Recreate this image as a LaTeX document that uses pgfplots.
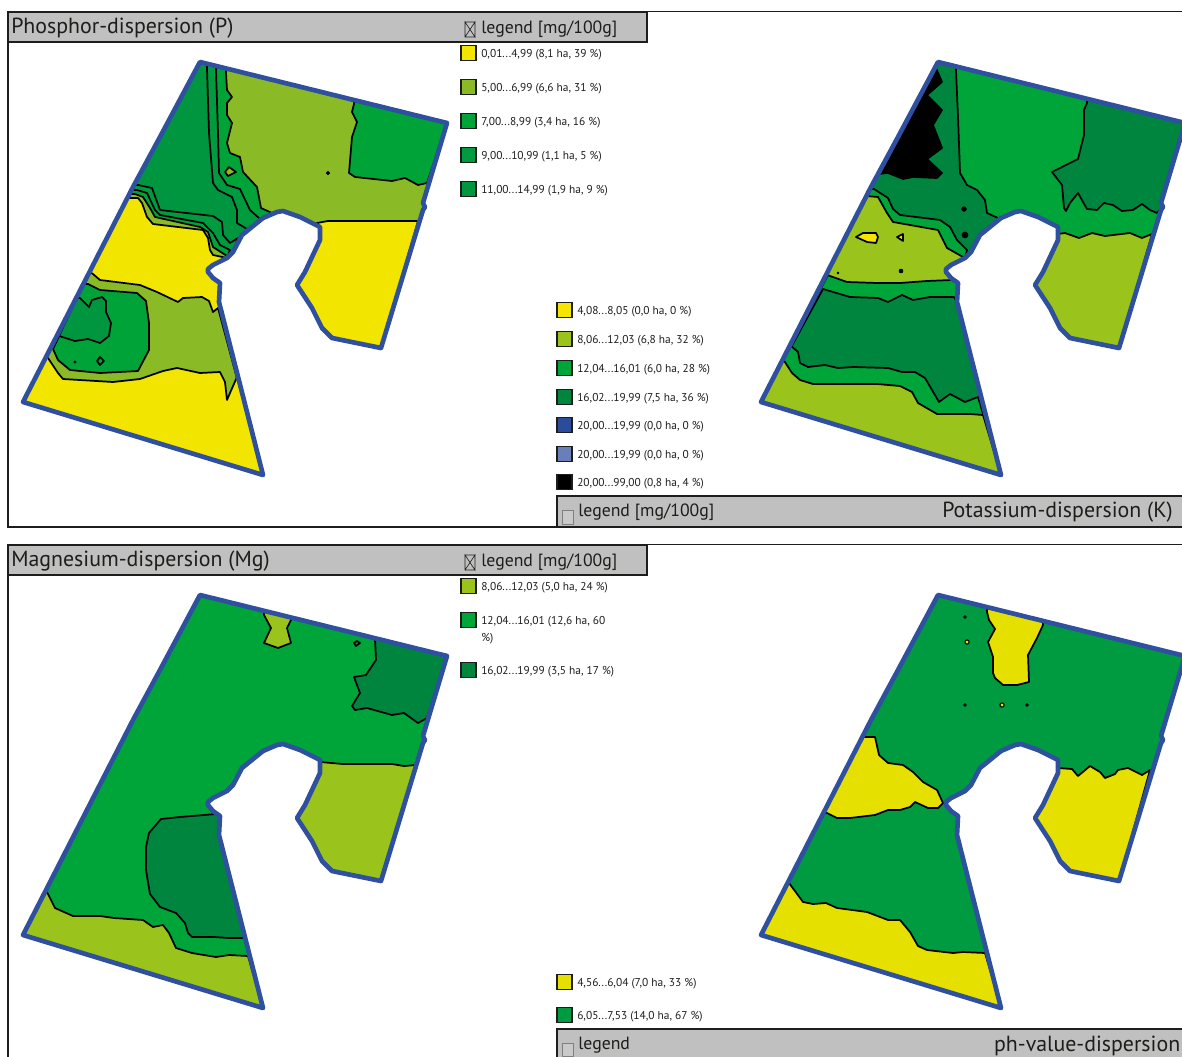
\documentclass[border=0pt]{standalone}
\usepackage{fontspec}
\setmainfont{PT Sans}
\usepackage{pgfplots}
\usepackage{pgfplotstable}
\pgfplotsset{compat=1.18}

% colours
\definecolor{fieldblue}{HTML}{2F4F9F}
\definecolor{hdr}{HTML}{C0C0C0}
\definecolor{framek}{HTML}{1D1D1B}
\definecolor{pyel}{HTML}{F2E500}
\definecolor{poli}{HTML}{8ABB26}
\definecolor{pgra}{HTML}{00A338}
\definecolor{pgrb}{HTML}{009B3E}
\definecolor{pgrc}{HTML}{009640}
\definecolor{kyel}{HTML}{F6E500}
\definecolor{koli}{HTML}{9AC31C}
\definecolor{kgra}{HTML}{00A539}
\definecolor{kdrk}{HTML}{00853E}
\definecolor{kblu}{HTML}{2B4B9B}
\definecolor{klbl}{HTML}{6A7FB9}
\definecolor{hyel}{HTML}{E5E000}
\definecolor{hgre}{HTML}{009B40}

% field border, in the pixel frame of the upper left panel
\pgfplotstableread{
x y
200 62
447 123
423 203
425 207
423 210
381 348
332 338
322 328
312 308
297 285
305 272
320 240
320 227
300 217
283 211
277 212
263 218
242 235
233 252
227 258
213 265
208 269
208 272
213 278
220 283
219 302
263 475
23 402
133 187
160 137
}\outlinetab

\pgfplotsset{
  panel/.style={
    scale only axis, width=886.5pt, height=792.75pt, hide axis, clip=false,
    y dir=reverse, anchor=south west, at={(0,0)}
  },
  reg/.style={fill=#1, draw=black, line width=1.3pt, line join=round},
  swatch/.style={only marks, mark=square*, mark size=5.6pt,
    mark options={fill=#1, draw=framek, line width=0.9pt}},
  spot/.style={only marks, mark=*, mark size=#1, mark options={fill=black, draw=black}},
  ring/.style={only marks, mark=*, mark size=1.6pt, mark options={fill=#1, draw=black, line width=0.8pt}},
}
\tikzset{
  ttl/.style={anchor=west, inner sep=0pt, yshift=-1.2pt, font=\fontsize{16.4pt}{17pt}\selectfont, text=framek},
  lgh/.style={anchor=west, inner sep=0pt, yshift=-0.6pt, font=\fontsize{13.3pt}{14pt}\selectfont, text=framek},
  lgt/.style={anchor=west, inner sep=0pt, yshift=-1.4pt, font=\fontsize{8.55pt}{9pt}\selectfont, text=framek},
}
\newcommand{\fieldbase}[1]{\addplot[fill=#1, draw=none] table {\outlinetab} -- cycle;}
\newcommand{\fieldborder}{\addplot[draw=fieldblue, line width=3.5pt, line join=round] table {\outlinetab} -- cycle;}

\begin{document}
\begin{tikzpicture}
\useasboundingbox (0,0) rectangle (886.5pt,792.75pt);

% frames, headers, legends: whole page
\begin{axis}[panel, xmin=0, xmax=1182, ymin=0, ymax=1057]
\addplot[draw=framek, line width=1.3pt] coordinates {(1182,11.5) (647,11.5)};
\addplot[draw=framek, line width=1.5pt] coordinates {(8,42) (8,527) (557,527)};
\addplot[fill=hdr, draw=framek, line width=2pt] coordinates {(8,12) (647,12) (647,42) (8,42)} -- cycle;
\addplot[fill=hdr, draw=none] coordinates {(557,496) (1182,496) (1182,527) (557,527)} -- cycle;
\addplot[draw=framek, line width=1.8pt] coordinates {(1182,496) (557,496) (557,527) (1182,527)};

\addplot[draw=framek, line width=1.3pt] coordinates {(1182,544.5) (647,544.5)};
\addplot[draw=framek, line width=1.5pt] coordinates {(8,575) (8,1057)};
\addplot[fill=hdr, draw=framek, line width=2pt] coordinates {(8,545) (647,545) (647,575) (8,575)} -- cycle;
\addplot[fill=hdr, draw=none] coordinates {(557,1029) (1182,1029) (1182,1057) (557,1057)} -- cycle;
\addplot[draw=framek, line width=1.8pt] coordinates {(1182,1029) (557,1029) (557,1057)};

% check boxes
\addplot[draw=framek, line width=0.5pt] coordinates {(465,22) (475,22) (475,37) (465,37) (465,22) (475,37) (475,22) (465,37)};
\addplot[draw=framek, line width=0.5pt] coordinates {(465,555) (475,555) (475,570) (465,570) (465,555) (475,570) (475,555) (465,570)};
\addplot[fill=hdr!85!white, draw=gray, line width=0.5pt] coordinates {(562,510) (573,510) (573,524) (562,524)} -- cycle;
\addplot[fill=hdr!85!white, draw=gray, line width=0.5pt] coordinates {(562,1043) (573,1043) (573,1056) (562,1056)} -- cycle;

% legend swatches
\addplot[swatch=pyel] coordinates {(468.5,53)};
\addplot[swatch=poli] coordinates {(468.5,87)};
\addplot[swatch=pgra] coordinates {(468.5,121)};
\addplot[swatch=pgrb] coordinates {(468.5,155)};
\addplot[swatch=pgrc] coordinates {(468.5,189)};
\addplot[swatch=kyel] coordinates {(564.5,310)};
\addplot[swatch=koli] coordinates {(564.5,339)};
\addplot[swatch=kgra] coordinates {(564.5,368)};
\addplot[swatch=kdrk] coordinates {(564.5,397)};
\addplot[swatch=kblu] coordinates {(564.5,425)};
\addplot[swatch=klbl] coordinates {(564.5,454)};
\addplot[swatch=black] coordinates {(564.5,482)};
\addplot[swatch=koli] coordinates {(468.5,586)};
\addplot[swatch=kgra] coordinates {(468.5,620)};
\addplot[swatch=kdrk] coordinates {(468.5,670)};
\addplot[swatch=hyel] coordinates {(564.5,982)};
\addplot[swatch=hgre] coordinates {(564.5,1015)};

\node[ttl] at (axis cs:11,27) {Phosphor-dispersion (P)};
\node[lgh] at (axis cs:481,28) {legend [mg/100g]};
\node[lgt] at (axis cs:481,53) {0,01...4,99 (8,1 ha, 39 \%)};
\node[lgt] at (axis cs:481,87) {5,00...6,99 (6,6 ha, 31 \%)};
\node[lgt] at (axis cs:481,121) {7,00...8,99 (3,4 ha, 16 \%)};
\node[lgt] at (axis cs:481,155) {9,00...10,99 (1,1 ha, 5 \%)};
\node[lgt] at (axis cs:481,189) {11,00...14,99 (1,9 ha, 9 \%)};

\node[lgt] at (axis cs:577,310) {4,08...8,05 (0,0 ha, 0 \%)};
\node[lgt] at (axis cs:577,339) {8,06...12,03 (6,8 ha, 32 \%)};
\node[lgt] at (axis cs:577,368) {12,04...16,01 (6,0 ha, 28 \%)};
\node[lgt] at (axis cs:577,397) {16,02...19,99 (7,5 ha, 36 \%)};
\node[lgt] at (axis cs:577,425) {20,00...19,99 (0,0 ha, 0 \%)};
\node[lgt] at (axis cs:577,454) {20,00...19,99 (0,0 ha, 0 \%)};
\node[lgt] at (axis cs:577,482) {20,00...99,00 (0,8 ha, 4 \%)};
\node[lgh] at (axis cs:578,511) {legend [mg/100g]};
\node[ttl] at (axis cs:942,511) {Potassium-dispersion (K)};

\node[ttl] at (axis cs:11,560) {Magnesium-dispersion (Mg)};
\node[lgh] at (axis cs:481,561) {legend [mg/100g]};
\node[lgt] at (axis cs:481,586) {8,06...12,03 (5,0 ha, 24 \%)};
\node[lgt] at (axis cs:481,620) {12,04...16,01 (12,6 ha, 60};
\node[lgt] at (axis cs:481,637) {\%)};
\node[lgt] at (axis cs:481,670) {16,02...19,99 (3,5 ha, 17 \%)};

\node[lgt] at (axis cs:577,982) {4,56...6,04 (7,0 ha, 33 \%)};
\node[lgt] at (axis cs:577,1015) {6,05...7,53 (14,0 ha, 67 \%)};
\node[lgh] at (axis cs:578,1044) {legend};
\node[ttl, anchor=east] at (axis cs:1180.5,1044) {ph-value-dispersion};
\end{axis}

% Phosphor
\begin{axis}[panel, xmin=0, xmax=1182, ymin=0, ymax=1057]
\fieldbase{pgrc}
% bands right of the field's top left part
\addplot[reg=pgrb] coordinates {(207,64) (207,68) (209,133) (213,183) (218,190) (232,197) (237,210) (237,223) (247,229) (250,228) (263,218) (277,212) (283,211) (300,217) (320,227) (320,240) (305,272) (297,285) (312,308) (322,328) (332,338) (381,348) (423,210) (425,207) (423,203) (447,123)} -- cycle;
\addplot[reg=pgra] coordinates {(216,66) (216,70) (218,133) (219,173) (227,185) (240,189) (250,210) (260,219) (263,218) (277,212) (283,211) (300,217) (320,227) (320,240) (305,272) (297,285) (312,308) (322,328) (332,338) (381,348) (423,210) (425,207) (423,203) (447,123)} -- cycle;
\addplot[reg=poli] coordinates {(226,68) (226,73) (227,90) (232,97) (227,103) (227,115) (232,123) (227,143) (230,153) (240,157) (243,172) (257,187) (261,208) (272,213) (283,211) (300,217) (320,227) (320,240) (305,272) (297,285) (312,308) (322,328) (332,338) (381,348) (423,210) (425,207) (423,203) (447,123)} -- cycle;
\addplot[reg=pgra] coordinates {(354,100) (354,104) (352,112) (357,122) (352,137) (349,173) (355,177) (392,181) (405,178) (418,185) (427,183) (447,123)} -- cycle;
\addplot[reg=pyel] coordinates {(320,227) (317,223) (328,221) (418,221) (381,348) (332,338) (322,328) (312,308) (297,285) (305,272) (320,240)} -- cycle;
\addplot[reg=poli] coordinates {(225,172) (229,167) (236,172) (228,176)} -- cycle;
\addplot[spot=1.4pt] coordinates {(328,173)};
% bands in the lower left part
\addplot[reg=pgrb] coordinates {(134,185) (138,185) (152,188) (160,210) (213,216) (222,222) (223,235) (230,243) (238,238) (233,252) (227,258) (213,265) (208,269) (208,272) (213,278) (220,283) (219,302) (263,475) (23,402)} -- cycle;
\addplot[reg=pgra] coordinates {(131,190) (137,190) (147,193) (155,210) (160,215) (203,223) (213,233) (220,245) (230,250) (227,258) (213,265) (208,269) (208,272) (213,278) (220,283) (219,302) (263,475) (23,402)} -- cycle;
\addplot[reg=poli] coordinates {(129,194) (135,194) (143,197) (150,208) (155,217) (200,227) (208,232) (213,247) (227,256) (227,258) (213,265) (208,269) (208,272) (213,278) (220,283) (219,302) (263,475) (23,402)} -- cycle;
\addplot[reg=pyel] coordinates {(127,198) (138,198) (142,203) (147,217) (153,224) (203,230) (208,238) (210,250) (213,255) (227,258) (213,265) (208,269) (208,272) (213,278) (220,283) (219,302) (263,475) (23,402)} -- cycle;
\addplot[reg=poli] coordinates {(90,272) (93,274) (100,280) (140,285) (157,292) (178,302) (183,298) (202,297) (209,301) (213,312) (218,308) (263,475) (23,402)} -- cycle;
\addplot[reg=pgra] coordinates {(84,284) (88,284) (100,290) (137,293) (146,301) (149,323) (149,350) (138,371) (100,373) (70,370) (58,360) (53,349)} -- cycle;
\addplot[reg=pgrc] coordinates {(77,298) (80,298) (89,307) (92,300) (102,297) (106,301) (106,312) (111,323) (109,336) (100,343) (88,339) (75,341) (59,336)} -- cycle;
\addplot[reg=pgra] coordinates {(97,361) (100,357) (104,361) (100,365)} -- cycle;
\addplot[spot=0.9pt] coordinates {(75,362)};
\addplot[reg=pyel] coordinates {(46,358) (48,358) (58,373) (63,379) (113,382) (140,379) (163,371) (177,368) (200,373) (220,372) (225,382) (227,400) (230,393) (237,377) (263,475) (23,402)} -- cycle;
\fieldborder
\end{axis}

% Potassium
\begin{axis}[panel, xmin=-738, xmax=444, ymin=0, ymax=1057]
\fieldbase{kdrk}
\addplot[reg=kgra] coordinates {(218,66) (218,71) (220,117) (222,173) (229,185) (239,190) (247,200) (249,213) (260,218) (263,218) (277,212) (283,211) (300,217) (320,227) (320,240) (305,272) (297,285) (312,308) (322,328) (332,338) (381,348) (423,210) (425,207) (423,203) (447,123)} -- cycle;
\addplot[reg=black] coordinates {(198,64) (198,68) (204,82) (189,95) (204,110) (195,125) (204,148) (189,159) (204,173) (199,178) (175,177) (165,179) (150,173) (140,174)} -- cycle;
\addplot[reg=kdrk] coordinates {(349,100) (349,103) (346,110) (346,135) (340,159) (314,172) (324,185) (326,208) (328,211) (332,203) (340,193) (345,202) (349,209) (359,210) (366,203) (375,205) (384,211) (395,210) (404,204) (412,210) (419,213) (424,207) (423,203) (447,123)} -- cycle;
\addplot[reg=koli] coordinates {(320,234) (327,233) (341,238) (354,233) (367,236) (392,233) (404,238) (414,234) (381,348) (332,338) (322,328) (312,308) (297,285) (305,272) (320,240)} -- cycle;
\addplot[reg=kgra] coordinates {(132,189) (136,189) (150,198) (155,209) (162,215) (202,220) (212,227) (219,240) (229,250) (227,258) (213,265) (208,269) (208,272) (213,278) (220,283) (219,302) (263,475) (23,402)} -- cycle;
\addplot[reg=koli] coordinates {(128,196) (140,197) (149,213) (155,222) (200,230) (209,248) (225,257) (227,258) (213,265) (208,269) (208,272) (213,278) (220,283) (219,302) (263,475) (23,402)} -- cycle;
\addplot[reg=kyel] coordinates {(118,237) (125,233) (138,233) (140,237) (138,243) (129,242)} -- cycle;
\addplot[reg=kyel] coordinates {(159,237) (165,234) (165,241)} -- cycle;
\addplot[reg=kgra] coordinates {(90,275) (92,276) (109,282) (139,283) (162,283) (189,281) (214,280) (220,283) (219,302) (263,475) (23,402)} -- cycle;
\addplot[reg=kdrk] coordinates {(85,289) (112,297) (140,298) (150,302) (164,295) (175,300) (192,297) (216,297) (219,302) (263,475) (23,402)} -- cycle;
\addplot[reg=kgra] coordinates {(53,346) (60,352) (62,363) (70,367) (87,365) (100,368) (115,367) (150,368) (164,372) (177,372) (187,378) (201,402) (212,394) (227,402) (240,397) (263,475) (23,402)} -- cycle;
\addplot[reg=koli] coordinates {(45,359) (54,373) (62,380) (75,384) (139,384) (162,386) (174,392) (180,403) (199,414) (232,414) (245,415) (263,475) (23,402)} -- cycle;
\addplot[spot=1.8pt] coordinates {(226,209)};
\addplot[spot=2.3pt] coordinates {(227,235)};
\addplot[spot=1.5pt] coordinates {(163,271)};
\addplot[spot=0.8pt] coordinates {(100,273)};
\fieldborder
\end{axis}

% Magnesium
\begin{axis}[panel, xmin=0, xmax=1182, ymin=-533, ymax=524]
\fieldbase{kgra}
\addplot[reg=koli] coordinates {(264,78) (264,82) (271,95) (264,110) (278,115) (291,110) (287,95) (291,87) (291,84)} -- cycle;
\addplot[reg=kgra] coordinates {(354,110) (357,108) (360,110) (356,113)} -- cycle;
\addplot[reg=kdrk] coordinates {(375,106) (376,127) (366,142) (354,144) (360,160) (352,173) (355,177) (367,175) (392,182) (404,180) (418,190) (427,185) (447,123)} -- cycle;
\addplot[reg=koli] coordinates {(320,229) (343,231) (392,231) (404,233) (416,232) (381,348) (332,338) (322,328) (312,308) (297,285) (305,272) (320,240)} -- cycle;
\addplot[reg=kdrk] coordinates {(216,281) (180,284) (161,286) (149,300) (146,314) (146,337) (150,361) (160,374) (176,380) (185,390) (188,400) (192,404) (214,404) (229,405) (245,405) (219,302) (220,283)} -- cycle;
\addplot[reg=koli] coordinates {(46,359) (47,359) (55,375) (73,383) (100,383) (114,385) (143,387) (153,394) (163,392) (169,400) (176,415) (192,420) (216,424) (229,422) (248,423) (263,475) (23,402)} -- cycle;
\fieldborder
\end{axis}

% pH value
\begin{axis}[panel, xmin=-738, xmax=444, ymin=-533, ymax=524]
\fieldbase{hgre}
\addplot[reg=hyel] coordinates {(249,74) (249,79) (251,87) (257,96) (250,109) (255,124) (255,140) (257,145) (265,152) (279,152) (291,149) (290,122) (299,105) (305,92) (305,88)} -- cycle;
\addplot[reg=hyel] coordinates {(124,204) (137,204) (141,222) (150,230) (165,232) (175,239) (185,249) (199,257) (205,270) (200,275) (190,275) (177,269) (172,274) (162,277) (150,277) (137,282) (112,285) (99,285) (89,280) (85,280)} -- cycle;
\addplot[reg=hyel] coordinates {(320,235) (334,236) (340,243) (352,233) (362,239) (367,245) (377,241) (380,237) (390,235) (404,242) (412,237) (381,348) (332,338) (322,328) (312,308) (297,285) (305,272) (320,240)} -- cycle;
\addplot[reg=hyel] coordinates {(49,350) (51,350) (65,369) (75,371) (88,370) (99,375) (129,379) (150,387) (162,387) (172,399) (180,413) (189,417) (215,420) (225,419) (247,420) (263,475) (23,402)} -- cycle;
\addplot[spot=1.1pt] coordinates {(227,84) (227,172) (289,172)};
\addplot[ring=hyel] coordinates {(229,109) (264,172)};
\fieldborder
\end{axis}
\end{tikzpicture}
\end{document}
